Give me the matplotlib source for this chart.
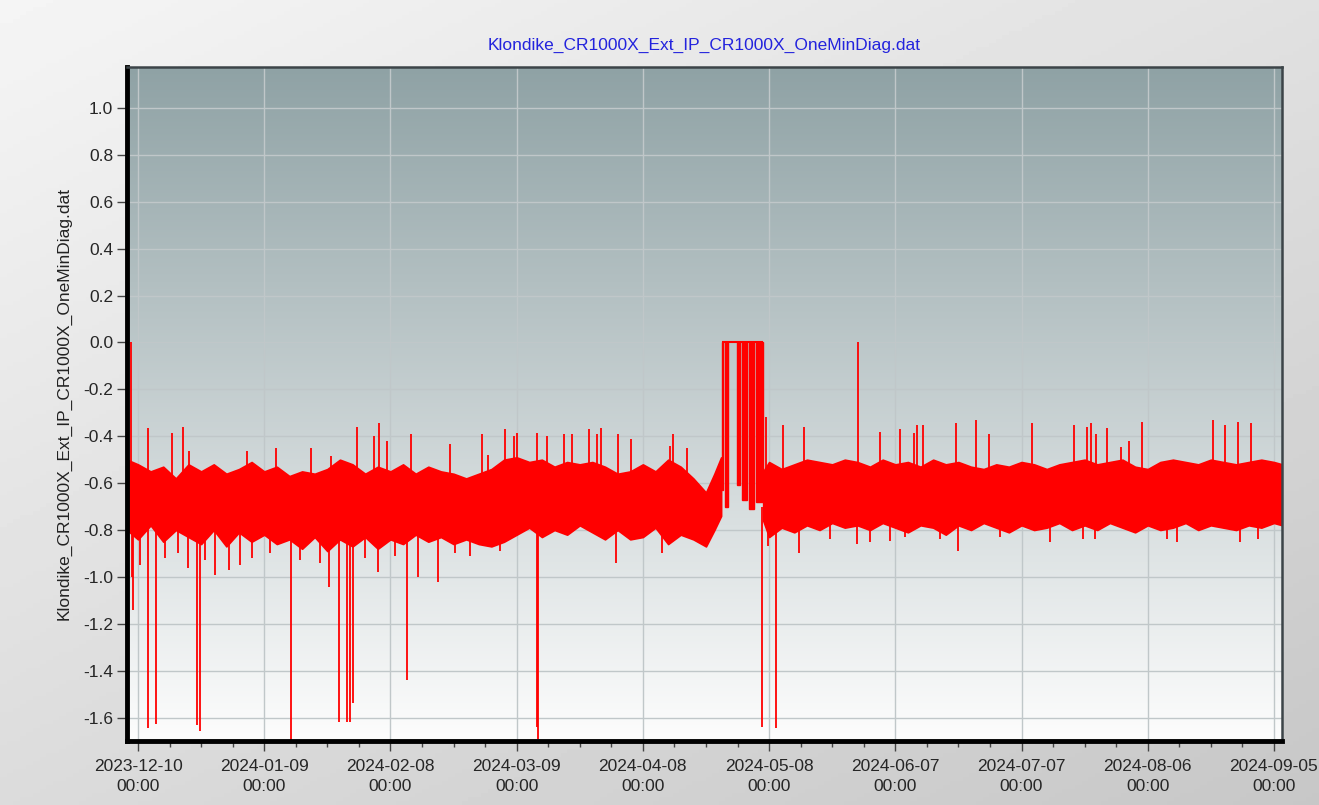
import numpy as np
import matplotlib
matplotlib.use("Agg")
import matplotlib.pyplot as plt
import matplotlib.dates as mdates
from matplotlib.ticker import FixedLocator, FormatStrFormatter

plt.rcParams['font.family'] = ['Liberation Sans', 'DejaVu Sans']
plt.rcParams['axes.unicode_minus'] = False

title = "Klondike_CR1000X_Ext_IP_CR1000X_OneMinDiag.dat"
start = np.datetime64("2023-12-10")   # day 0
y_ticks = [-1.6, -1.4, -1.2, -1.0, -0.8, -0.6, -0.4, -0.2, 0.0, 0.2, 0.4, 0.6, 0.8, 1.0]

# band envelope, before the late-April outage (days from 2023-12-10)
band1_days = [-2.6, 0, 3, 6, 9, 12, 15, 18, 21, 24,
              27, 30, 33, 36, 39, 42, 45, 48, 51, 54,
              57, 60, 63, 66, 69, 72, 75, 78, 81, 84,
              87, 90, 93, 96, 99, 102, 105, 108, 111, 114,
              117, 120, 123, 126, 129, 132, 135, 137, 138.6]
band1_top = [-0.50, -0.52, -0.55, -0.53, -0.58, -0.52, -0.55, -0.52, -0.56, -0.54,
             -0.51, -0.55, -0.53, -0.57, -0.55, -0.56, -0.54, -0.50, -0.52, -0.56,
             -0.53, -0.55, -0.52, -0.56, -0.53, -0.55, -0.56, -0.58, -0.56, -0.54,
             -0.50, -0.49, -0.51, -0.50, -0.53, -0.51, -0.52, -0.51, -0.53, -0.56,
             -0.55, -0.52, -0.55, -0.50, -0.53, -0.58, -0.64, -0.56, -0.49]
band1_bot = [-0.80, -0.84, -0.78, -0.85, -0.80, -0.83, -0.86, -0.80, -0.87, -0.81,
             -0.85, -0.82, -0.86, -0.84, -0.88, -0.83, -0.89, -0.84, -0.87, -0.83,
             -0.88, -0.84, -0.86, -0.82, -0.85, -0.83, -0.86, -0.84, -0.86, -0.87,
             -0.85, -0.82, -0.79, -0.83, -0.80, -0.82, -0.78, -0.81, -0.84, -0.80,
             -0.84, -0.83, -0.79, -0.86, -0.82, -0.84, -0.87, -0.80, -0.74]

# band envelope after the outage
band2_days = [148.6, 150, 153, 156, 159, 162, 165, 168, 171, 174,
              177, 180, 183, 186, 189, 192, 195, 198, 201, 204,
              207, 210, 213, 216, 219, 222, 225, 228, 231, 234,
              237, 240, 243, 246, 249, 252, 255, 258, 261, 264,
              267, 270, 272]
band2_top = [-0.55, -0.51, -0.54, -0.52, -0.50, -0.51, -0.52, -0.50, -0.51, -0.53,
             -0.50, -0.52, -0.51, -0.53, -0.50, -0.52, -0.51, -0.53, -0.54, -0.52,
             -0.53, -0.51, -0.52, -0.54, -0.52, -0.51, -0.50, -0.52, -0.51, -0.50,
             -0.53, -0.54, -0.51, -0.50, -0.51, -0.52, -0.50, -0.51, -0.52, -0.51,
             -0.50, -0.51, -0.52]
band2_bot = [-0.76, -0.83, -0.79, -0.81, -0.78, -0.80, -0.77, -0.79, -0.78, -0.80,
             -0.77, -0.79, -0.81, -0.78, -0.79, -0.82, -0.78, -0.80, -0.77, -0.79,
             -0.81, -0.78, -0.80, -0.79, -0.77, -0.80, -0.78, -0.80, -0.77, -0.79,
             -0.81, -0.78, -0.80, -0.79, -0.77, -0.80, -0.78, -0.79, -0.80, -0.78,
             -0.79, -0.77, -0.78]

# single-sample excursions above the band
up_days = [-1.66, 2.38, 8.08, 10.70, 12.12, 25.91, 32.80, 41.12, 45.88, 52.06,
           57.29, 56.10, 59.19, 64.89, 74.16, 81.77, 83.19, 87.24, 89.38, 90.09,
           94.84, 97.22, 101.26, 103.16, 107.20, 109.10, 110.06, 114.10, 117.19, 126.46,
           127.17, 130.50, 149.27, 153.31, 158.30, 171.14, 176.37, 181.13, 184.46, 185.17,
           186.60, 194.44, 199.19, 202.28, 212.50, 222.49, 225.58, 226.53, 227.72, 230.33,
           233.66, 235.56, 238.65, 255.53, 258.38, 261.47, 264.56]
up_vals = [0.0, -0.366, -0.385, -0.36, -0.465, -0.465, -0.45, -0.45, -0.485, -0.36,
           -0.345, -0.40, -0.42, -0.39, -0.435, -0.39, -0.48, -0.37, -0.40, -0.385,
           -0.385, -0.40, -0.39, -0.39, -0.37, -0.39, -0.366, -0.39, -0.41, -0.44,
           -0.39, -0.45, -0.32, -0.35, -0.36, 0.0, -0.38, -0.37, -0.385, -0.35,
           -0.35, -0.345, -0.33, -0.39, -0.345, -0.35, -0.36, -0.345, -0.39, -0.366,
           -0.445, -0.42, -0.34, -0.33, -0.35, -0.34, -0.345]

# single-sample excursions below the band
down_days = [-1.43, -1.19, 0.48, 2.38, 4.28, 6.42, 9.51, 11.88, 14.02, 14.74,
             15.93, 18.30, 21.63, 24.25, 27.10, 31.38, 36.37, 38.51, 43.26, 45.40,
             47.78, 49.68, 50.39, 51.11, 53.96, 57.05, 61.09, 63.94, 66.56, 71.31,
             75.35, 78.92, 86.05, 94.84, 95.08, 113.62, 124.55, 148.32, 149.75, 151.65,
             157.12, 164.5, 170.91, 174.0, 178.75, 182.3, 190.6, 194.91, 204.9, 216.8,
             224.6, 227.5, 244.6, 247.0, 261.9, 266.2]
down_vals = [-1.00, -1.14, -0.95, -1.643, -1.626, -0.92, -0.90, -0.96, -1.63, -1.656,
             -0.93, -0.99, -0.97, -0.95, -0.92, -0.90, -1.70, -0.93, -0.94, -1.045,
             -1.62, -1.62, -1.62, -1.54, -0.92, -0.98, -0.91, -1.44, -1.00, -1.02,
             -0.90, -0.91, -0.89, -1.64, -1.69, -0.94, -0.90, -1.64, -0.87, -1.645,
             -0.90, -0.84, -0.86, -0.85, -0.845, -0.83, -0.84, -0.89, -0.83, -0.85,
             -0.84, -0.84, -0.84, -0.85, -0.85, -0.84]

# late-April / early-May outage: reading stuck at 0.0 with drop-outs
block_start = [138.70, 139.41, 142.26, 143.45, 145.23, 146.89]
block_end = [138.94, 140.24, 143.09, 144.64, 146.42, 148.55]
block_low = [-0.63, -0.70, -0.61, -0.67, -0.71, -0.68]

t0 = mdates.date2num(start.astype("datetime64[s]").item())
def tx(d):
    return t0 + np.asarray(d, dtype=float)

fig = plt.figure(figsize=(13.19, 8.05), dpi=100)

# figure background, light top-left to grey bottom-right
bg = fig.add_axes([0, 0, 1, 1], zorder=-1)
gx, gy = np.meshgrid(np.linspace(0, 1, 200), np.linspace(0, 1, 200))
shade = 0.96 - 0.08 * gx - 0.10 * gy
bg.imshow(shade, cmap="gray", vmin=0, vmax=1, aspect="auto", extent=[0, 1, 0, 1], origin="upper")
bg.axis("off")

ax = fig.add_axes([0.0963, 0.0795, 0.8756, 0.8373])

# plot area gradient
top_c = np.array([143, 162, 165]) / 255
bot_c = np.array([253, 253, 253]) / 255
f = np.linspace(0, 1, 256)[:, None, None]
grad = top_c * (1 - f) + bot_c * f
ax.imshow(grad, extent=[0, 1, 0, 1], transform=ax.transAxes, aspect="auto", zorder=0)

red = "#ff0000"
ax.fill_between(tx(band1_days), band1_bot, band1_top, color=red, lw=1.2, edgecolor=red, zorder=2)
ax.fill_between(tx(band2_days), band2_bot, band2_top, color=red, lw=1.2, edgecolor=red, zorder=2)
ax.vlines(tx(up_days), -0.62, up_vals, color=red, lw=1.3, zorder=2)
ax.vlines(tx(down_days), -0.70, down_vals, color=red, lw=1.3, zorder=2)
ax.bar(tx(block_start), -np.array(block_low), bottom=block_low,
       width=np.array(block_end) - np.array(block_start), align="edge", color=red, lw=1, edgecolor=red, zorder=2)
ax.hlines(0.0, tx(block_start[0]), tx(block_end[-1]), color=red, lw=1.5, zorder=2)

ax.set_xlim(tx(-2.61), tx(271.9))
ax.set_ylim(-1.70, 1.175)

ax.xaxis.set_major_locator(FixedLocator(tx(np.arange(0, 271, 30))))
ax.xaxis.set_minor_locator(FixedLocator(tx(np.arange(-7.5, 275, 7.5))))
ax.xaxis.set_major_formatter(mdates.DateFormatter("%Y-%m-%d\n%H:%M"))
ax.yaxis.set_major_locator(FixedLocator(y_ticks))
ax.yaxis.set_major_formatter(FormatStrFormatter("%.1f"))

ax.grid(True, which="major", color="#c0c7c9", lw=1)
ax.set_axisbelow(True)
for lab in ax.get_xticklabels():
    lab.set_linespacing(1.45)
ax.tick_params(axis="both", which="major", direction="out", length=7, width=1,
               color="#444444", labelsize=12.5, labelcolor="#262626")
ax.tick_params(axis="x", which="minor", direction="out", length=4, width=1, color="#444444")
ax.tick_params(axis="x", which="major", pad=6)
ax.tick_params(axis="y", which="major", pad=3)

ax.spines["left"].set_linewidth(3.5)
ax.spines["left"].set_color("black")
ax.spines["bottom"].set_linewidth(3.5)
ax.spines["bottom"].set_color("black")
ax.spines["top"].set_linewidth(1.8)
ax.spines["top"].set_color("#3c4448")
ax.spines["right"].set_linewidth(1.8)
ax.spines["right"].set_color("#3c4448")

ax.set_title(title, color="#2323dd", fontsize=12.5, pad=12)
ax.set_ylabel(title, fontsize=12.5, color="#222222", labelpad=8)

fig.savefig("out.png", dpi=100)
